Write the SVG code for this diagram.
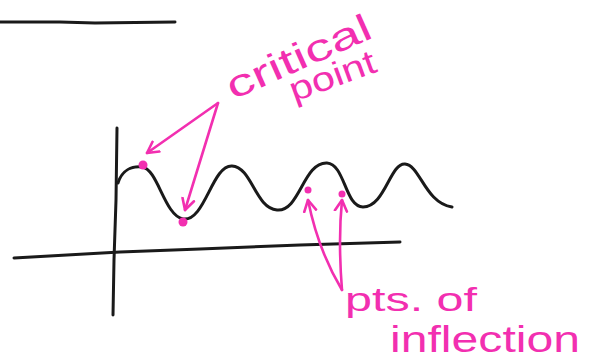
<svg xmlns="http://www.w3.org/2000/svg" width="593" height="360" viewBox="0 0 593 360">
<style>
.ink{fill:none;stroke:#1a1a1a;stroke-width:3;stroke-linecap:round;stroke-linejoin:round}
.pink{fill:none;stroke:#f22fb0;stroke-width:2.6;stroke-linecap:round;stroke-linejoin:round}
.lbl{fill:#f22fb0;font-family:"Liberation Sans","DejaVu Sans",sans-serif}
.dot{fill:#f22fb0}
</style>
<defs>
<marker id="v" viewBox="-12 -8 14 16" refX="0" refY="0" markerWidth="14" markerHeight="16" markerUnits="userSpaceOnUse" orient="auto">
<path d="M-11,-6 L0,0 L-11,6" fill="none" stroke="#f22fb0" stroke-width="2.6" stroke-linecap="round" stroke-linejoin="round"/>
</marker>
</defs>
<rect width="593" height="360" fill="#ffffff"/>
<g id="topline"><path class="ink" d="M0,22 L60,22 L95,23 L175,22" stroke-width="2.5"/></g>
<g id="axes">
<path class="ink" d="M117,128 L116,200 L114,260 L113,315"/>
<path class="ink" d="M14,258 L120,252 L200,249 L300,245 L400,242"/>
</g>
<g id="curve">
<path class="ink" d="M118,183 C122,170 132,166 142,167 C158,169 164,215 183,219 C205,222 212,165 232,166 C252,167 255,208 277,210 C300,212 303,162 327,163 C345,164 345,207 363,207 C385,207 390,163 405,164 C420,165 425,203 452,207"/>
</g>
<g id="points">
<circle class="dot" cx="143" cy="165" r="4.5"/>
<circle class="dot" cx="183" cy="222" r="4.5"/>
<circle class="dot" cx="308" cy="190" r="3.5"/>
<circle class="dot" cx="342" cy="194" r="3.5"/>
</g>
<g id="critical-label">
<text class="lbl" font-size="38" transform="translate(233,100) rotate(-24)" textLength="155" lengthAdjust="spacingAndGlyphs">critical</text>
<text class="lbl" font-size="34" transform="translate(294,102) rotate(-20)" textLength="90" lengthAdjust="spacingAndGlyphs">point</text>
</g>
<g id="inflection-label">
<text class="lbl" font-size="34" x="345" y="311" textLength="132" lengthAdjust="spacingAndGlyphs">pts. of</text>
<text class="lbl" font-size="36" x="390" y="352" textLength="190" lengthAdjust="spacingAndGlyphs">inflection</text>
</g>
<g id="connectors">
<path class="pink" d="M218,103 L147,153" marker-end="url(#v)"/>
<path class="pink" d="M218,103 L185,210" marker-end="url(#v)"/>
<path class="pink" d="M342,290 Q318,250 308,200" marker-end="url(#v)"/>
<path class="pink" d="M342,290 Q338,240 342,200" marker-end="url(#v)"/>
</g>
</svg>
